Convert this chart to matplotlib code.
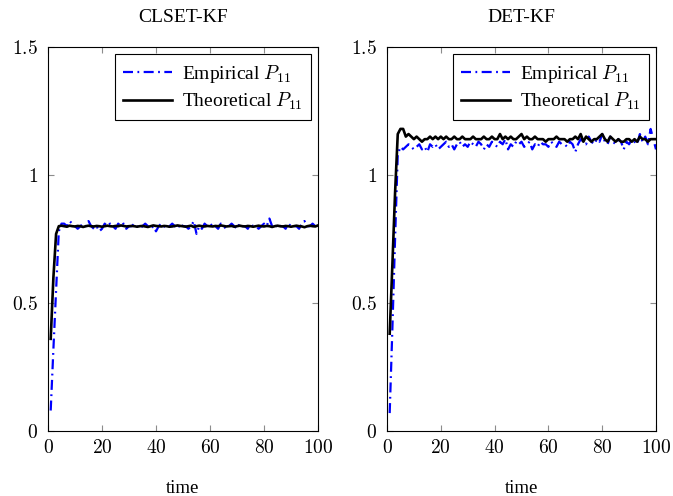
import matplotlib
matplotlib.use("Agg")
import matplotlib.pyplot as plt
import numpy as np

plt.rcParams['font.family'] = ['Liberation Serif', 'DejaVu Serif']
plt.rcParams['mathtext.fontset'] = 'cm'

time = list(range(1, 101))

clset_emp = [0.08, 0.32, 0.55, 0.78, 0.81, 0.81, 0.80, 0.82, 0.81, 0.80,
             0.79, 0.80, 0.81, 0.80, 0.82, 0.80, 0.79, 0.80, 0.78, 0.79,
             0.81, 0.80, 0.81, 0.80, 0.79, 0.81, 0.80, 0.81, 0.79, 0.80,
             0.80, 0.81, 0.80, 0.79, 0.80, 0.81, 0.80, 0.79, 0.80, 0.78,
             0.80, 0.81, 0.80, 0.79, 0.80, 0.81, 0.80, 0.79, 0.81, 0.80,
             0.80, 0.79, 0.80, 0.82, 0.77, 0.80, 0.79, 0.81, 0.80, 0.80,
             0.81, 0.80, 0.79, 0.81, 0.80, 0.79, 0.80, 0.81, 0.80, 0.79,
             0.81, 0.80, 0.80, 0.79, 0.81, 0.80, 0.80, 0.79, 0.80, 0.81,
             0.80, 0.83, 0.80, 0.79, 0.81, 0.80, 0.80, 0.79, 0.81, 0.80,
             0.80, 0.80, 0.79, 0.81, 0.82, 0.80, 0.80, 0.81, 0.80, 0.80]

clset_theo = [0.36, 0.60, 0.77, 0.80, 0.802, 0.800, 0.798, 0.802, 0.800, 0.799,
              0.801, 0.800, 0.797, 0.800, 0.802, 0.800, 0.799, 0.801, 0.800, 0.798,
              0.800, 0.802, 0.800, 0.799, 0.801, 0.800, 0.803, 0.801, 0.799, 0.800,
              0.801, 0.800, 0.798, 0.800, 0.801, 0.799, 0.797, 0.800, 0.803, 0.801,
              0.800, 0.799, 0.801, 0.800, 0.798, 0.799, 0.801, 0.803, 0.801, 0.800,
              0.798, 0.800, 0.802, 0.797, 0.800, 0.802, 0.800, 0.799, 0.801, 0.800,
              0.799, 0.801, 0.800, 0.803, 0.801, 0.799, 0.800, 0.801, 0.798, 0.800,
              0.802, 0.800, 0.799, 0.801, 0.800, 0.798, 0.800, 0.802, 0.800, 0.799,
              0.801, 0.800, 0.797, 0.800, 0.802, 0.800, 0.799, 0.801, 0.800, 0.798,
              0.800, 0.802, 0.800, 0.799, 0.796, 0.800, 0.802, 0.800, 0.799, 0.803]

det_emp = [0.07, 0.40, 0.75, 1.08, 1.11, 1.10, 1.11, 1.12, 1.11, 1.10,
           1.11, 1.12, 1.10, 1.11, 1.09, 1.12, 1.11, 1.12, 1.10, 1.11,
           1.12, 1.13, 1.11, 1.12, 1.10, 1.12, 1.13, 1.11, 1.12, 1.11,
           1.13, 1.12, 1.11, 1.13, 1.12, 1.10, 1.12, 1.11, 1.13, 1.12,
           1.11, 1.13, 1.12, 1.14, 1.10, 1.12, 1.11, 1.13, 1.12, 1.13,
           1.11, 1.12, 1.13, 1.10, 1.12, 1.11, 1.13, 1.12, 1.12, 1.11,
           1.13, 1.12, 1.11, 1.13, 1.12, 1.12, 1.11, 1.13, 1.12, 1.09,
           1.12, 1.14, 1.13, 1.12, 1.15, 1.13, 1.12, 1.14, 1.13, 1.16,
           1.13, 1.12, 1.15, 1.13, 1.12, 1.14, 1.13, 1.10, 1.13, 1.12,
           1.14, 1.13, 1.12, 1.16, 1.13, 1.15, 1.12, 1.18, 1.14, 1.10]

det_theo = [0.38, 0.65, 0.93, 1.16, 1.18, 1.18, 1.15, 1.16, 1.15, 1.14,
            1.15, 1.14, 1.13, 1.14, 1.14, 1.15, 1.14, 1.15, 1.14, 1.15,
            1.14, 1.15, 1.14, 1.14, 1.15, 1.14, 1.14, 1.15, 1.14, 1.14,
            1.14, 1.15, 1.14, 1.14, 1.14, 1.15, 1.14, 1.14, 1.15, 1.14,
            1.14, 1.16, 1.14, 1.15, 1.14, 1.15, 1.14, 1.14, 1.15, 1.16,
            1.14, 1.15, 1.14, 1.14, 1.15, 1.14, 1.14, 1.14, 1.13, 1.14,
            1.14, 1.14, 1.15, 1.14, 1.14, 1.14, 1.13, 1.14, 1.14, 1.15,
            1.14, 1.16, 1.13, 1.15, 1.14, 1.13, 1.14, 1.14, 1.15, 1.16,
            1.14, 1.13, 1.15, 1.14, 1.13, 1.14, 1.13, 1.13, 1.14, 1.14,
            1.13, 1.14, 1.13, 1.15, 1.14, 1.14, 1.13, 1.14, 1.14, 1.14]

titles = ["CLSET-KF", "DET-KF"]
xticks = [0, 20, 40, 60, 80, 100]
xticklabels = ["0", "20", "40", "60", "80", "100"]
yticks = [0, 0.5, 1, 1.5]
yticklabels = ["0", "0.5", "1", "1.5"]

fig = plt.figure(figsize=(6.73, 4.96), dpi=100)
ax1 = fig.add_axes([48/673, 1-431/496, 270/673, 384/496])
ax2 = fig.add_axes([387/673, 1-431/496, 269/673, 384/496])

for ax, title, emp, theo in [(ax1, titles[0], clset_emp, clset_theo),
                             (ax2, titles[1], det_emp, det_theo)]:
    ax.plot(time, emp, color='blue', lw=1.6, linestyle=(0, (4.5, 2.0, 0.8, 2.0)),
            label=r'Empirical $P_{11}$')
    ax.plot(time, theo, color='black', lw=1.9, label=r'Theoretical $P_{11}$')
    ax.set_xlim(0, 100)
    ax.set_ylim(0, 1.5)
    ax.set_xticks(xticks)
    ax.set_xticklabels(['$%s$' % s for s in xticklabels])
    ax.set_yticks(yticks)
    ax.set_yticklabels(['$%s$' % s for s in yticklabels])
    ax.tick_params(direction='in', top=True, right=True, length=4, width=0.8,
                   color='0.55', labelsize=14)
    ax.tick_params(axis='x', pad=6)
    ax.tick_params(axis='y', pad=7)
    for s in ax.spines.values():
        s.set_linewidth(0.8)
    ax.set_title(title, fontsize=14, pad=18)
    ax.set_xlabel('time', fontsize=13.5, labelpad=16)
    leg = ax.legend(loc='upper right', fontsize=14, handlelength=2.5,
                    fancybox=False, framealpha=1, edgecolor='black',
                    borderaxespad=0.35, labelspacing=0.3, handletextpad=0.5,
                    borderpad=0.45)
    leg.get_frame().set_linewidth(0.8)

fig.savefig('out.png', dpi=100)
